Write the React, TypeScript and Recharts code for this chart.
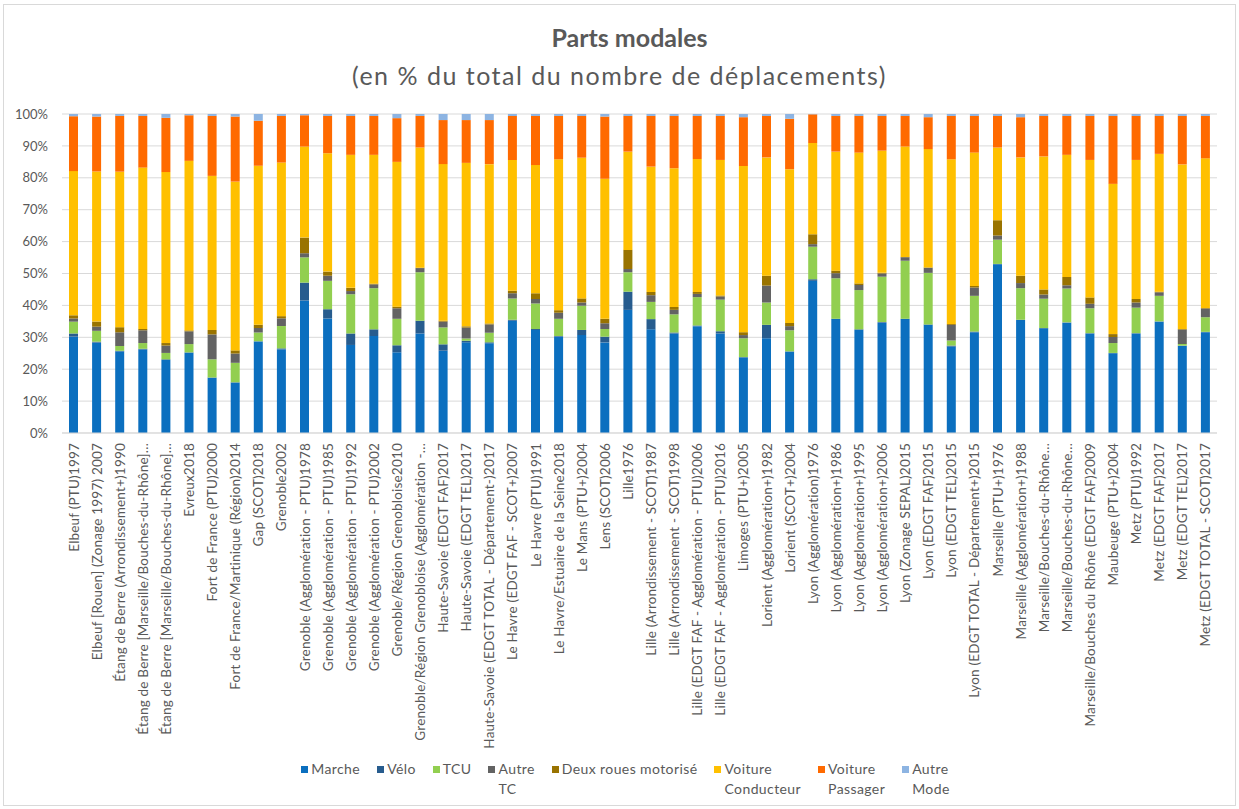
import { BarChart, Bar, XAxis, YAxis, CartesianGrid } from 'recharts';

const categories = [
  'Elbeuf (PTU)1997',
  'Elbeuf [Rouen] (Zonage 1997) 2007',
  'Étang de Berre (Arrondissement+)1990',
  'Étang de Berre [Marseille/Bouches-du-Rhône]…',
  'Étang de Berre [Marseille/Bouches-du-Rhône]…',
  'Evreux2018',
  'Fort de France (PTU)2000',
  'Fort de France/Martinique (Région)2014',
  'Gap (SCOT)2018',
  'Grenoble2002',
  'Grenoble (Agglomération - PTU)1978',
  'Grenoble (Agglomération - PTU)1985',
  'Grenoble (Agglomération - PTU)1992',
  'Grenoble (Agglomération - PTU)2002',
  'Grenoble/Région Grenobloise2010',
  'Grenoble/Région Grenobloise (Agglomération -…',
  'Haute-Savoie (EDGT FAF)2017',
  'Haute-Savoie (EDGT TEL)2017',
  'Haute-Savoie (EDGT TOTAL - Département-)2017',
  'Le Havre (EDGT FAF - SCOT+)2007',
  'Le Havre (PTU)1991',
  'Le Havre/Estuaire de la Seine2018',
  'Le Mans (PTU+)2004',
  'Lens (SCOT)2006',
  'Lille1976',
  'Lille (Arrondissement - SCOT)1987',
  'Lille (Arrondissement - SCOT)1998',
  'Lille (EDGT FAF - Agglomération - PTU)2006',
  'Lille (EDGT FAF - Agglomération - PTU)2016',
  'Limoges (PTU+)2005',
  'Lorient (Agglomération+)1982',
  'Lorient (SCOT+)2004',
  'Lyon (Agglomération)1976',
  'Lyon (Agglomération+)1986',
  'Lyon (Agglomération+)1995',
  'Lyon (Agglomération+)2006',
  'Lyon (Zonage SEPAL)2015',
  'Lyon (EDGT FAF)2015',
  'Lyon (EDGT TEL)2015',
  'Lyon (EDGT TOTAL - Département+)2015',
  'Marseille (PTU+)1976',
  'Marseille (Agglomération+)1988',
  'Marseille/Bouches-du-Rhône…',
  'Marseille/Bouches-du-Rhône…',
  'Marseille/Bouches du Rhône (EDGT FAF)2009',
  'Maubeuge (PTU+)2004',
  'Metz (PTU)1992',
  'Metz (EDGT FAF)2017',
  'Metz (EDGT TEL)2017',
  'Metz (EDGT TOTAL - SCOT)2017',
];

const marche = [
  30.2, 28.3, 25.6, 26.2, 22.9, 25.2, 17.3, 15.8, 28.7, 26.2,
  41.5, 35.9, 27.6, 30.4, 25.3, 31.2, 25.8, 28.4, 28.1, 35.2,
  32.3, 30.2, 30.7, 28.4, 38.6, 32.5, 31.2, 33.5, 31.2, 23.7,
  29.7, 25.5, 47.7, 35.7, 32.3, 34.6, 35.7, 33.9, 27.1, 31.6,
  52.9, 35.4, 32.8, 34.6, 31.2, 25.0, 31.2, 34.9, 27.3, 31.6,
];
const velo = [
  1.0, 0.3, 0.2, 0.2, 0.2, 0.1, 0.1, 0.1, 0.1, 0.3,
  5.6, 2.9, 3.6, 2.1, 2.2, 4.0, 2.0, 0.5, 0.3, 0.3,
  0.3, 0.2, 1.6, 1.8, 5.7, 3.2, 0.3, 0.2, 0.7, 0.1,
  4.2, 0.1, 0.5, 0.1, 0.2, 0.2, 0.1, 0.1, 0.3, 0.2,
  0.1, 0.1, 0.1, 0.1, 0.1, 0.1, 0.1, 0.1, 0.1, 0.1,
];
const tcu = [
  3.7, 3.4, 1.5, 1.8, 2.0, 2.6, 5.7, 6.1, 2.7, 7.0,
  7.9, 8.9, 12.3, 12.9, 8.3, 15.2, 5.3, 0.7, 3.0, 6.7,
  8.0, 5.4, 7.6, 2.4, 6.1, 5.4, 5.7, 8.9, 9.9, 5.9,
  7.0, 6.6, 10.2, 12.7, 12.3, 14.2, 18.2, 16.2, 1.6, 11.2,
  7.6, 9.9, 9.2, 10.6, 7.8, 3.1, 8.0, 8.0, 0.5, 4.6,
];
const autreTc = [
  1.0, 1.3, 4.3, 4.0, 2.3, 4.0, 7.8, 2.9, 1.4, 2.4,
  1.3, 1.6, 1.0, 1.2, 3.3, 1.3, 1.8, 3.4, 2.6, 1.6,
  1.4, 1.9, 1.0, 1.8, 1.0, 2.1, 1.4, 1.0, 1.0, 1.0,
  5.3, 1.3, 0.8, 1.6, 1.6, 1.0, 1.1, 1.6, 4.9, 2.6,
  1.3, 1.6, 1.3, 1.0, 1.4, 1.9, 1.6, 1.1, 4.5, 2.7,
];
const deuxRoues = [
  1.0, 1.6, 1.6, 0.4, 0.8, 0.3, 1.4, 1.0, 1.0, 0.7,
  4.9, 1.3, 1.0, 0.2, 0.5, 0.1, 0.3, 0.4, 0.3, 0.8,
  1.8, 0.8, 1.3, 1.4, 6.0, 1.0, 0.9, 0.6, 0.3, 0.9,
  3.1, 1.0, 3.1, 0.8, 0.5, 0.2, 0.1, 0.1, 0.3, 0.5,
  4.8, 2.3, 1.6, 2.6, 2.0, 0.9, 1.1, 0.2, 0.2, 0.2,
];
const voitureConducteur = [
  45.2, 47.0, 48.8, 50.6, 53.6, 53.2, 48.3, 52.9, 49.9, 48.1,
  28.5, 37.1, 41.7, 40.4, 45.4, 37.7, 49.1, 51.2, 49.9, 41.0,
  40.2, 47.3, 44.1, 43.9, 30.8, 39.3, 43.5, 41.7, 42.5, 52.1,
  37.1, 48.2, 28.6, 37.3, 41.0, 38.3, 34.6, 37.1, 51.6, 41.8,
  22.8, 37.1, 41.7, 38.3, 43.1, 47.1, 43.6, 43.2, 51.6, 46.9,
];
const voiturePassager = [
  17.2, 17.2, 17.5, 16.2, 17.0, 14.3, 18.8, 20.4, 14.1, 14.6,
  9.8, 11.7, 12.2, 12.2, 13.7, 9.9, 13.8, 13.4, 13.8, 13.8,
  15.4, 13.6, 13.1, 19.5, 11.2, 15.9, 16.4, 13.5, 13.8, 15.3,
  13.0, 15.8, 9.0, 11.2, 11.5, 10.9, 9.6, 10.0, 13.6, 11.5,
  9.9, 12.6, 12.7, 12.2, 13.8, 21.3, 13.8, 11.9, 15.2, 13.3,
];
const autreMode = [
  0.7, 0.8, 0.6, 0.6, 1.2, 0.4, 0.6, 0.8, 2.1, 0.6,
  0.4, 0.6, 0.6, 0.6, 1.3, 0.6, 1.9, 1.9, 1.9, 0.6,
  0.6, 0.6, 0.6, 0.8, 0.6, 0.6, 0.6, 0.6, 0.6, 1.0,
  0.6, 1.5, 0.1, 0.6, 0.6, 0.6, 0.6, 1.0, 0.6, 0.6,
  0.6, 1.0, 0.6, 0.6, 0.6, 0.6, 0.6, 0.6, 0.6, 0.6,
];

const seriesKeys = ['marche', 'velo', 'tcu', 'autreTc', 'deuxRoues', 'voitureConducteur', 'voiturePassager', 'autreMode'];
const seriesNames = ['Marche', 'Vélo', 'TCU', 'Autre\nTC', 'Deux roues motorisé', 'Voiture\nConducteur', 'Voiture\nPassager', 'Autre\nMode'];
const seriesColors = ['#0B6FBF', '#275C8E', '#92CF50', '#636363', '#997300', '#FFC000', '#FF6A00', '#8DB4E2'];
const yTicks = [0, 0.1, 0.2, 0.3, 0.4, 0.5, 0.6, 0.7, 0.8, 0.9, 1];

const seriesValues = [marche, velo, tcu, autreTc, deuxRoues, voitureConducteur, voiturePassager, autreMode];

const data = categories.map((name, i) => {
  const row: Record<string, string | number> = { name };
  seriesKeys.forEach((k, s) => {
    row[k] = seriesValues[s][i];
  });
  return row;
});

const FONT = 'Lato, "Noto Sans", sans-serif';
const TEXT = '#595959';

const CategoryTick = ({ x, y, payload }: { x?: number; y?: number; payload?: { value: string } }) => (
  <text
    x={x}
    y={y}
    transform={`rotate(-90 ${x} ${y})`}
    textAnchor="end"
    dominantBaseline="central"
    fontSize={13.5}
    letterSpacing={0.2}
    fontFamily={FONT}
    fill={TEXT}
  >
    {payload?.value}
  </text>
);

export default function App() {
  return (
    <div style={{ position: 'absolute', left: 0, top: 0, width: 1239, height: 809, background: '#fff', fontFamily: FONT }}>
      <div style={{ position: 'absolute', left: 3, top: 4, width: 1231, height: 800, border: '1px solid #d9d9d9' }} />
      <div style={{ position: 'absolute', left: 0, top: 18, width: 1239, textAlign: 'center', color: TEXT }}>
        <div style={{ fontSize: 25, fontWeight: 700, lineHeight: '38px', paddingLeft: 20 }}>Parts modales</div>
        <div style={{ fontSize: 25, lineHeight: '38px', letterSpacing: 1.5 }}>(en % du total du nombre de déplacements)</div>
      </div>
      <BarChart
        width={1239}
        height={809}
        data={data}
        stackOffset="expand"
        margin={{ top: 114, right: 22, bottom: 0, left: 0 }}
      >
        <CartesianGrid vertical={false} stroke="#d9d9d9" />
        <XAxis
          dataKey="name"
          interval={0}
          height={376}
          tickLine={false}
          tickSize={0}
          tickMargin={10}
          axisLine={{ stroke: '#d9d9d9' }}
          tick={<CategoryTick />}
        />
        <YAxis
          width={62}
          domain={[0, 1]}
          ticks={yTicks}
          tickFormatter={(v: number) => `${Math.round(v * 100)}%`}
          axisLine={false}
          tickLine={false}
          tickSize={0}
          tickMargin={14}
          tick={{ fill: TEXT, fontSize: 13, fontFamily: FONT }}
        />
        {seriesKeys.map((k, i) => (
          <Bar key={k} dataKey={k} name={seriesNames[i]} stackId="a" fill={seriesColors[i]} barSize={9} isAnimationActive={false} />
        ))}
      </BarChart>
      <div
        style={{
          position: 'absolute',
          left: 0,
          top: 759,
          width: 1239,
          boxSizing: 'border-box',
          paddingLeft: 12,
          display: 'flex',
          justifyContent: 'center',
          gap: 17,
          color: TEXT,
          fontSize: 14,
          letterSpacing: 0.4,
          lineHeight: '20px',
        }}
      >
        {seriesNames.map((n, i) => (
          <div key={n} style={{ display: 'flex', alignItems: 'flex-start' }}>
            <span style={{ width: 7, height: 7, background: seriesColors[i], marginTop: 7, marginRight: 3 }} />
            <span style={{ whiteSpace: 'pre-line' }}>{n}</span>
          </div>
        ))}
      </div>
    </div>
  );
}
